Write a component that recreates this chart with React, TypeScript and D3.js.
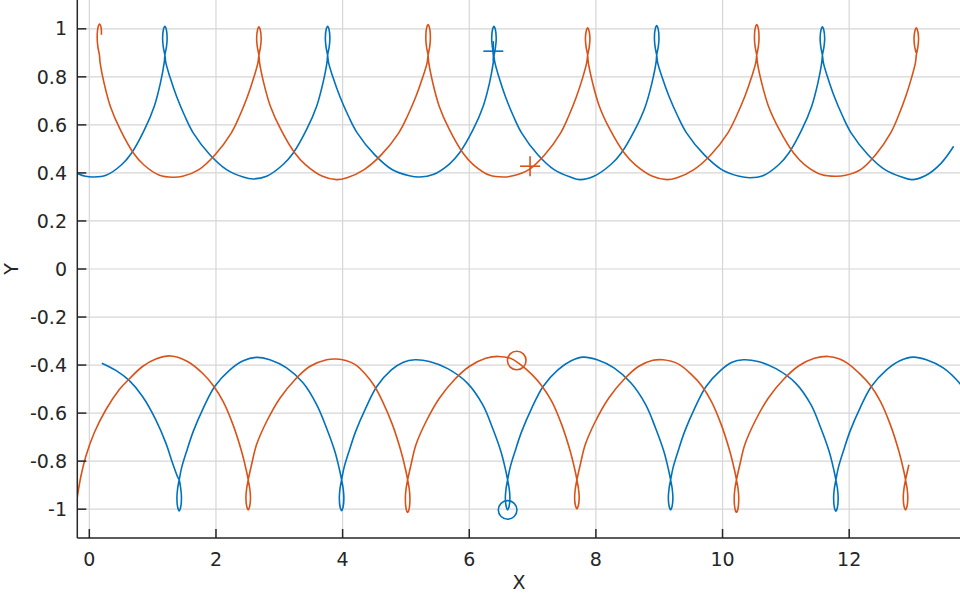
import React from "react";
import * as d3 from "d3";

// traced points of the four curves, [x, y]
const upperBlue: [number, number][] = [
  [-0.19, 0.398], [-0.06, 0.386], [0.06, 0.383], [0.263, 0.39], [0.513, 0.435], [0.668, 0.483], [0.871, 0.58], [1.026, 0.678], [1.123, 0.775], [1.183, 0.86],
  [1.193, 0.89], [1.218, 0.925], [1.229, 0.96], [1.215, 0.998], [1.193, 1.011], [1.171, 0.998], [1.157, 0.96], [1.168, 0.925], [1.193, 0.89],
  [1.209, 0.858], [1.272, 0.8], [1.377, 0.719], [1.509, 0.636], [1.64, 0.567], [1.904, 0.476], [2.167, 0.414], [2.43, 0.383], [2.588, 0.375],
  [2.8, 0.386], [3.06, 0.435], [3.22, 0.483], [3.43, 0.58], [3.59, 0.678], [3.69, 0.775], [3.753, 0.86],
  [3.763, 0.89], [3.788, 0.925], [3.799, 0.96], [3.785, 0.998], [3.763, 1.011], [3.741, 0.998], [3.727, 0.96], [3.738, 0.925], [3.763, 0.89],
  [3.779, 0.858], [3.845, 0.8], [3.955, 0.719], [4.093, 0.636], [4.23, 0.567], [4.505, 0.476], [4.78, 0.414], [5.054, 0.388], [5.22, 0.383],
  [5.43, 0.393], [5.69, 0.438], [5.85, 0.485], [6.06, 0.58], [6.22, 0.678], [6.32, 0.775], [6.38, 0.86],
  [6.39, 0.885], [6.415, 0.925], [6.426, 0.96], [6.412, 0.997], [6.39, 1.01], [6.368, 0.997], [6.354, 0.96], [6.365, 0.925], [6.39, 0.885],
  [6.406, 0.858], [6.467, 0.8], [6.569, 0.719], [6.698, 0.636], [6.826, 0.567], [7.083, 0.476], [7.34, 0.414], [7.596, 0.383], [7.75, 0.372],
  [7.968, 0.386], [8.236, 0.435], [8.401, 0.483], [8.617, 0.58], [8.782, 0.678], [8.885, 0.775], [8.95, 0.86],
  [8.96, 0.89], [8.985, 0.925], [8.996, 0.96], [8.982, 1.001], [8.96, 1.014], [8.938, 1.001], [8.924, 0.96], [8.935, 0.925], [8.96, 0.89],
  [8.976, 0.858], [9.043, 0.8], [9.154, 0.719], [9.293, 0.636], [9.431, 0.567], [9.709, 0.476], [9.987, 0.414], [10.264, 0.386], [10.43, 0.38],
  [10.637, 0.388], [10.891, 0.435], [11.047, 0.483], [11.252, 0.58], [11.408, 0.678], [11.506, 0.775], [11.567, 0.86],
  [11.577, 0.89], [11.602, 0.925], [11.613, 0.96], [11.599, 0.995], [11.577, 1.008], [11.555, 0.995], [11.541, 0.96], [11.552, 0.925], [11.577, 0.89],
  [11.593, 0.858], [11.657, 0.8], [11.763, 0.719], [11.897, 0.636], [12.03, 0.567], [12.297, 0.476], [12.564, 0.414], [12.83, 0.383], [12.99, 0.372],
  [13.2, 0.388], [13.45, 0.44], [13.65, 0.511],
];

const upperOrange: [number, number][] = [
  [0.19, 0.975], [0.186, 1.005], [0.16, 1.02], [0.138, 1.007], [0.124, 0.965], [0.135, 0.925], [0.16, 0.89],
  [0.17, 0.86], [0.232, 0.775], [0.331, 0.678], [0.489, 0.58], [0.696, 0.483], [0.854, 0.435], [1.11, 0.39], [1.32, 0.382],
  [1.474, 0.386], [1.73, 0.414], [1.986, 0.476], [2.243, 0.567], [2.371, 0.636], [2.499, 0.719], [2.601, 0.8], [2.662, 0.858],
  [2.678, 0.89], [2.703, 0.925], [2.714, 0.96], [2.7, 0.995], [2.678, 1.008], [2.656, 0.995], [2.642, 0.96], [2.653, 0.925], [2.678, 0.89],
  [2.688, 0.86], [2.754, 0.775], [2.859, 0.678], [3.026, 0.58], [3.245, 0.483], [3.412, 0.435], [3.683, 0.386], [3.905, 0.372],
  [4.069, 0.38], [4.341, 0.414], [4.613, 0.476], [4.887, 0.567], [5.023, 0.636], [5.159, 0.719], [5.268, 0.8], [5.334, 0.858],
  [5.35, 0.89], [5.375, 0.925], [5.386, 0.96], [5.372, 1.005], [5.35, 1.018], [5.328, 1.005], [5.314, 0.96], [5.325, 0.925], [5.35, 0.89],
  [5.36, 0.86], [5.424, 0.775], [5.525, 0.678], [5.687, 0.58], [5.9, 0.483], [6.062, 0.435], [6.326, 0.39], [6.54, 0.383],
  [6.691, 0.388], [6.942, 0.414], [7.192, 0.476], [7.444, 0.567], [7.569, 0.636], [7.695, 0.719], [7.795, 0.8], [7.854, 0.858],
  [7.87, 0.89], [7.895, 0.925], [7.906, 0.96], [7.892, 0.991], [7.87, 1.004], [7.848, 0.991], [7.834, 0.96], [7.845, 0.925], [7.87, 0.89],
  [7.88, 0.86], [7.948, 0.775], [8.054, 0.678], [8.224, 0.58], [8.448, 0.483], [8.618, 0.435], [8.895, 0.386], [9.12, 0.372],
  [9.281, 0.38], [9.548, 0.414], [9.816, 0.476], [10.085, 0.567], [10.218, 0.636], [10.353, 0.719], [10.46, 0.8], [10.524, 0.858],
  [10.54, 0.89], [10.565, 0.925], [10.576, 0.96], [10.562, 1.005], [10.54, 1.018], [10.518, 1.005], [10.504, 0.96], [10.515, 0.925], [10.54, 0.89],
  [10.55, 0.86], [10.618, 0.775], [10.725, 0.678], [10.897, 0.58], [11.122, 0.483], [11.294, 0.435], [11.572, 0.392], [11.8, 0.386],
  [11.943, 0.39], [12.18, 0.414], [12.418, 0.476], [12.656, 0.567], [12.775, 0.636], [12.894, 0.719], [12.989, 0.8], [13.046, 0.858],
  [13.06, 0.89], [13.085, 0.925], [13.096, 0.96], [13.082, 0.991], [13.06, 1.004], [13.038, 0.991], [13.024, 0.96], [13.035, 0.925], [13.058, 0.9],
];

const lowerBlue: [number, number][] = [
  [0.197, -0.392], [0.419, -0.422], [0.629, -0.464], [0.84, -0.531], [1.05, -0.628], [1.209, -0.725], [1.314, -0.808], [1.393, -0.865],
  [1.419, -0.878], [1.444, -0.915], [1.455, -0.955], [1.441, -0.994], [1.419, -1.007], [1.397, -0.994], [1.383, -0.955], [1.394, -0.915], [1.419, -0.878],
  [1.456, -0.829], [1.535, -0.76], [1.64, -0.677], [1.8, -0.579], [1.98, -0.489], [2.22, -0.42], [2.43, -0.382], [2.64, -0.368],
  [2.85, -0.378], [3.115, -0.412], [3.378, -0.475], [3.59, -0.565], [3.747, -0.663], [3.878, -0.76], [3.957, -0.843],
  [3.984, -0.878], [4.009, -0.915], [4.02, -0.955], [4.006, -0.993], [3.984, -1.006], [3.962, -0.993], [3.948, -0.955], [3.959, -0.915], [3.984, -0.878],
  [4.021, -0.829], [4.1, -0.76], [4.205, -0.677], [4.365, -0.579], [4.54, -0.489], [4.77, -0.42], [4.96, -0.388], [5.14, -0.378],
  [5.37, -0.385], [5.659, -0.415], [5.97, -0.475], [6.212, -0.565], [6.369, -0.663], [6.5, -0.76], [6.579, -0.843],
  [6.606, -0.878], [6.631, -0.915], [6.642, -0.955], [6.628, -0.99], [6.606, -1.003], [6.584, -0.99], [6.57, -0.955], [6.581, -0.915], [6.606, -0.878],
  [6.643, -0.829], [6.722, -0.76], [6.827, -0.677], [6.987, -0.579], [7.166, -0.489], [7.4, -0.42], [7.61, -0.382], [7.8, -0.367],
  [8.02, -0.378], [8.285, -0.412], [8.555, -0.475], [8.786, -0.565], [8.943, -0.663], [9.074, -0.76], [9.153, -0.843],
  [9.18, -0.878], [9.205, -0.915], [9.216, -0.955], [9.202, -0.99], [9.18, -1.003], [9.158, -0.99], [9.144, -0.955], [9.155, -0.915], [9.18, -0.878],
  [9.217, -0.829], [9.296, -0.76], [9.401, -0.677], [9.561, -0.579], [9.74, -0.489], [9.97, -0.422], [10.15, -0.388], [10.33, -0.378],
  [10.56, -0.385], [10.843, -0.415], [11.154, -0.475], [11.396, -0.565], [11.553, -0.663], [11.684, -0.76], [11.763, -0.843],
  [11.79, -0.878], [11.815, -0.915], [11.826, -0.955], [11.812, -0.995], [11.79, -1.008], [11.768, -0.995], [11.754, -0.955], [11.765, -0.915], [11.79, -0.878],
  [11.827, -0.829], [11.906, -0.76], [12.011, -0.677], [12.171, -0.579], [12.35, -0.489], [12.59, -0.42], [12.8, -0.382], [13.01, -0.367],
  [13.22, -0.378], [13.485, -0.412], [13.75, -0.478], [13.95, -0.56],
];

const lowerOrange: [number, number][] = [
  [-0.205, -0.975], [-0.134, -0.864], [-0.055, -0.78], [0.076, -0.683], [0.261, -0.586], [0.471, -0.503], [0.629, -0.458], [0.84, -0.406], [1.05, -0.375], [1.287, -0.362],
  [1.55, -0.385], [1.8, -0.437], [1.956, -0.485], [2.114, -0.552], [2.27, -0.649], [2.405, -0.76], [2.483, -0.843],
  [2.509, -0.878], [2.534, -0.915], [2.545, -0.955], [2.531, -0.99], [2.509, -1.003], [2.487, -0.99], [2.473, -0.955], [2.484, -0.915], [2.509, -0.878],
  [2.562, -0.815], [2.64, -0.732], [2.8, -0.635], [3.01, -0.538], [3.247, -0.461], [3.48, -0.406], [3.747, -0.378], [3.905, -0.375],
  [4.05, -0.381], [4.2, -0.398], [4.361, -0.438], [4.497, -0.485], [4.632, -0.552], [4.788, -0.649], [4.923, -0.76], [5.001, -0.843],
  [5.027, -0.878], [5.052, -0.915], [5.063, -0.955], [5.049, -1.001], [5.027, -1.014], [5.005, -1.001], [4.991, -0.955], [5.002, -0.915], [5.027, -0.878],
  [5.08, -0.815], [5.158, -0.732], [5.318, -0.635], [5.528, -0.538], [5.765, -0.461], [6.0, -0.406], [6.26, -0.372], [6.46, -0.364],
  [6.65, -0.372], [6.779, -0.392], [6.991, -0.44], [7.147, -0.487], [7.305, -0.552], [7.461, -0.649], [7.596, -0.76], [7.674, -0.843],
  [7.7, -0.878], [7.725, -0.915], [7.736, -0.955], [7.722, -0.986], [7.7, -0.999], [7.678, -0.986], [7.664, -0.955], [7.675, -0.915], [7.7, -0.878],
  [7.753, -0.815], [7.831, -0.732], [7.991, -0.635], [8.201, -0.538], [8.438, -0.461], [8.671, -0.406], [8.9, -0.38], [9.06, -0.378],
  [9.299, -0.395], [9.511, -0.44], [9.667, -0.485], [9.825, -0.552], [9.981, -0.649], [10.116, -0.76], [10.194, -0.843],
  [10.22, -0.878], [10.245, -0.915], [10.256, -0.955], [10.242, -1.0], [10.22, -1.013], [10.198, -1.0], [10.184, -0.955], [10.195, -0.915], [10.22, -0.878],
  [10.273, -0.815], [10.351, -0.732], [10.511, -0.635], [10.721, -0.538], [10.958, -0.461], [11.2, -0.404], [11.45, -0.372], [11.67, -0.364],
  [11.85, -0.375], [11.969, -0.392], [12.181, -0.44], [12.337, -0.485], [12.495, -0.552], [12.651, -0.649], [12.786, -0.76], [12.864, -0.843],
  [12.89, -0.878], [12.915, -0.915], [12.926, -0.955], [12.912, -0.99], [12.89, -1.003], [12.868, -0.99], [12.854, -0.955], [12.865, -0.915], [12.89, -0.878],
  [12.943, -0.815],
];

// current positions
const plusMarkers = [
  { x: 6.38, y: 0.907, color: "#0072BD" },
  { x: 6.96, y: 0.428, color: "#D95319" },
];
const circleMarkers = [
  { x: 6.75, y: -0.381, color: "#D95319" },
  { x: 6.606, y: -1.003, color: "#0072BD" },
];

const xTicks = [0, 2, 4, 6, 8, 10, 12];
const yTicks = [-1, -0.8, -0.6, -0.4, -0.2, 0, 0.2, 0.4, 0.6, 0.8, 1];

const BLUE = "#0072BD";
const ORANGE = "#D95319";
const AXIS = "#262626";
const GRID = "#d6d6d6";

export default function App() {
  const width = 960;
  const height = 596;
  const left = 77.3;
  const bottom = 538;

  const x = d3.scaleLinear().domain([-0.19, 13.75]).range([left, width]);
  const y = d3.scaleLinear().domain([-1.12, 1.12]).range([bottom, 0]);

  const line = d3
    .line<[number, number]>()
    .x((d) => x(d[0]))
    .y((d) => y(d[1]))
    .curve(d3.curveCatmullRom.alpha(0.5));

  const series = [
    { pts: upperBlue, color: BLUE },
    { pts: lowerBlue, color: BLUE },
    { pts: upperOrange, color: ORANGE },
    { pts: lowerOrange, color: ORANGE },
  ];

  const tickLen = 9;
  const fontFamily = "DejaVu Sans, sans-serif";

  return (
    <svg
      width={width}
      height={height}
      style={{ position: "fixed", left: 0, top: 0, background: "white" }}
    >
      <defs>
        <clipPath id="plot">
          <rect x={left} y={0} width={width - left} height={bottom} />
        </clipPath>
      </defs>

      {/* grid */}
      <g stroke={GRID} strokeWidth={1.2}>
        {xTicks.map((t) => (
          <line key={"gx" + t} x1={x(t)} x2={x(t)} y1={0} y2={bottom} />
        ))}
        {yTicks.map((t) => (
          <line key={"gy" + t} x1={left} x2={width} y1={y(t)} y2={y(t)} />
        ))}
      </g>

      {/* curves */}
      <g clipPath="url(#plot)" fill="none" strokeWidth={1.6} strokeLinejoin="round">
        {series.map((s, i) => (
          <path key={i} d={line(s.pts) || ""} stroke={s.color} />
        ))}
        {plusMarkers.map((m, i) => (
          <g key={"p" + i} stroke={m.color} strokeWidth={1.6}>
            <line x1={x(m.x) - 10} x2={x(m.x) + 10} y1={y(m.y)} y2={y(m.y)} />
            <line x1={x(m.x)} x2={x(m.x)} y1={y(m.y) - 10} y2={y(m.y) + 10} />
          </g>
        ))}
        {circleMarkers.map((m, i) => (
          <circle key={"c" + i} cx={x(m.x)} cy={y(m.y)} r={9.3} stroke={m.color} strokeWidth={1.6} />
        ))}
      </g>

      {/* axes */}
      <g stroke={AXIS} strokeWidth={1.5}>
        <line x1={left} x2={left} y1={0} y2={bottom} />
        <line x1={left} x2={width} y1={bottom} y2={bottom} />
        {xTicks.map((t) => (
          <line key={"tx" + t} x1={x(t)} x2={x(t)} y1={bottom} y2={bottom - tickLen} />
        ))}
        {yTicks.map((t) => (
          <line key={"ty" + t} x1={left} x2={left + tickLen} y1={y(t)} y2={y(t)} />
        ))}
      </g>

      <g fill={AXIS} fontFamily={fontFamily} fontSize={19}>
        {xTicks.map((t) => (
          <text key={"lx" + t} x={x(t)} y={bottom + 28} textAnchor="middle">
            {String(t)}
          </text>
        ))}
        {yTicks.map((t) => (
          <text key={"ly" + t} x={67} y={y(t)} dy="0.35em" textAnchor="end">
            {String(t)}
          </text>
        ))}
        <text x={519} y={589} textAnchor="middle">X</text>
        <text transform={`translate(18,269) rotate(-90)`} textAnchor="middle">Y</text>
      </g>
    </svg>
  );
}
